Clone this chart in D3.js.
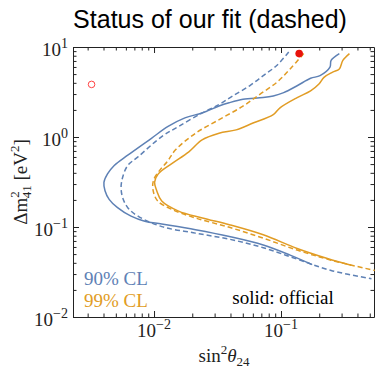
<!DOCTYPE html>
<html><head><meta charset="utf-8">
<script src="https://cdn.jsdelivr.net/npm/d3@7"></script>
<style>body{margin:0;background:#fff}svg{display:block}</style>
</head><body><svg id="c" width="375" height="369"></svg>
<script>
// ---- data (sin^2 theta24, Delta m^2_41 [eV^2]) ----
const blueSolidS = [0.288,0.248,0.243,0.203,0.171,0.134,0.105,0.0869,0.0722,0.0502,0.0390,0.0325,0.0239,0.0175,0.0129,0.00954,0.00621,0.00486,0.00430,0.00403,0.00411,0.00443,0.00516,0.00659,0.00845,0.0115,0.0212,0.0392,0.0725,0.118,0.176];
const blueSolidM = [8.45,7.10,5.97,4.81,4.49,3.71,3.11,2.86,2.74,2.62,2.40,2.21,1.85,1.63,1.31,0.968,0.628,0.483,0.389,0.314,0.253,0.203,0.164,0.132,0.116,0.108,0.0933,0.0784,0.0631,0.0487,0.0382];
const blueDashS = [0.115,0.0925,0.0725,0.0566,0.0417,0.0326,0.0239,0.0156,0.0115,0.00747,0.00621,0.00566,0.00550,0.00566,0.00621,0.00747,0.0115,0.0212,0.0392,0.0725,0.134,0.248,0.516];
const blueDashM = [8.80,6.23,4.81,3.71,2.86,2.30,1.85,1.31,1.01,0.601,0.483,0.357,0.275,0.212,0.164,0.132,0.101,0.0855,0.0732,0.0589,0.0439,0.0329,0.0266];
const orangeSolidS = [0.346,0.307,0.288,0.255,0.218,0.199,0.171,0.134,0.0982,0.0869,0.0602,0.0443,0.0325,0.0239,0.0188,0.0138,0.0108,0.0101,0.0105,0.0115,0.0156,0.0240,0.0392,0.0725,0.134,0.232,0.357];
const orangeSolidM = [8.45,7.10,5.71,5.25,4.60,3.87,3.25,2.74,2.11,1.77,1.43,1.20,1.10,0.927,0.683,0.505,0.389,0.314,0.253,0.194,0.150,0.126,0.106,0.0819,0.0578,0.0447,0.0375];
const orangeDashS = [0.151,0.118,0.0925,0.0681,0.0501,0.0326,0.0212,0.0147,0.0128,0.0110,0.00990,0.00984,0.0107,0.0138,0.0212,0.0392,0.0725,0.134,0.248,0.548];
const orangeDashM = [8.45,5.71,4.04,2.98,2.20,1.56,1.10,0.715,0.540,0.420,0.330,0.253,0.194,0.157,0.126,0.0992,0.0751,0.0554,0.0428,0.0329];
const openPoint = [0.00322, 3.84];
const fitPoint = [0.139, 8.45];
const xMajor = [0.01, 0.1];
const yMajor = [0.01, 0.1, 1, 10];
const xTickLabels = ["10", "−2", "10", "−1"];
const yTickExps = ["−2", "−1", "0", "1"];
const legendLabels = ["90% CL", "99% CL"];

const blue = "#5e81b5", orange = "#e19c24";
const serif = "'Liberation Serif','Times New Roman',serif";
const svg = d3.select("#c");
const L = 73, R = 374, T = 47, B = 317;
const x = d3.scaleLog().domain([0.0023, 0.54]).range([L, R]);
const y = d3.scaleLog().domain([0.01, 10]).range([B, T]);

function minorTicks(dom) {
  const out = [];
  for (let e = -4; e <= 2; e++) for (let k = 1; k <= 9; k++) {
    const v = k * Math.pow(10, e);
    if (v >= dom[0] * 0.999 && v <= dom[1] * 1.001) out.push(v);
  }
  return out;
}
const xt = minorTicks(x.domain()), yt = minorTicks(y.domain());
const isMajor = v => Math.abs(Math.log10(v) - Math.round(Math.log10(v))) < 1e-6;

function drawAxis(axisGen, tr, vals, dirSign, horiz) {
  const g = svg.append("g").attr("transform", tr)
    .call(axisGen.tickValues(vals).tickFormat("").tickSizeOuter(0).tickSizeInner(-5));
  g.select(".domain").attr("stroke", "#222");
  g.selectAll(".tick line").attr("stroke", "#222")
    .attr(horiz ? "y2" : "x2", d => dirSign * (isMajor(d) ? 6 : 3.5));
  return g;
}
drawAxis(d3.axisBottom(x), `translate(0,${B})`, xt, -1, true);
drawAxis(d3.axisTop(x), `translate(0,${T})`, xt, 1, true);
drawAxis(d3.axisLeft(y), `translate(${L},0)`, yt, 1, false);
drawAxis(d3.axisRight(y), `translate(${R},0)`, yt, -1, false);

// tick labels
xMajor.forEach((v, i) => {
  const t = svg.append("text").attr("x", x(v)).attr("y", 337).attr("text-anchor", "middle")
    .attr("font-family", serif).attr("font-size", 19).attr("fill", "#222");
  t.append("tspan").text(xTickLabels[2 * i]);
  t.append("tspan").attr("font-size", 14).attr("dy", -8).text(xTickLabels[2 * i + 1]);
});
yMajor.forEach((v, i) => {
  const t = svg.append("text").attr("x", 68).attr("y", y(v) + 9).attr("text-anchor", "end")
    .attr("font-family", serif).attr("font-size", 19).attr("fill", "#222");
  t.append("tspan").text("10");
  t.append("tspan").attr("font-size", 14).attr("dy", -8).text(yTickExps[i]);
});

// curves
const line = d3.line().x(d => x(d[0])).y(d => y(d[1])).curve(d3.curveCatmullRom.alpha(0.5));
const g = svg.append("g");
function curve(S, M, col, dash) {
  g.append("path").attr("d", line(S.map((s, i) => [s, M[i]])))
    .attr("fill", "none").attr("stroke", col).attr("stroke-width", 1.5)
    .attr("stroke-dasharray", dash ? "5,3" : null);
}
curve(blueSolidS, blueSolidM, blue, false);
curve(blueDashS, blueDashM, blue, true);
curve(orangeSolidS, orangeSolidM, orange, false);
curve(orangeDashS, orangeDashM, orange, true);

svg.append("circle").attr("cx", x(openPoint[0])).attr("cy", y(openPoint[1])).attr("r", 3.3)
  .attr("fill", "none").attr("stroke", "#f44").attr("stroke-width", 1);
svg.append("circle").attr("cx", x(fitPoint[0])).attr("cy", y(fitPoint[1])).attr("r", 3.8)
  .attr("fill", "#e8120c");

// legend
svg.append("text").attr("x", 84).attr("y", 285).attr("font-family", serif).attr("font-size", 19)
  .attr("fill", blue).text(legendLabels[0]);
svg.append("text").attr("x", 84).attr("y", 307).attr("font-family", serif).attr("font-size", 19)
  .attr("fill", orange).text(legendLabels[1]);
svg.append("text").attr("x", 283).attr("y", 304).attr("text-anchor", "middle").attr("font-family", serif)
  .attr("font-size", 19).attr("fill", "#000").text("solid: official");

// title
svg.append("text").attr("x", 210).attr("y", 28).attr("text-anchor", "middle")
  .attr("font-family", "'Liberation Sans',Arial,sans-serif").attr("font-size", 25).attr("fill", "#000")
  .text("Status of our fit (dashed)");

// axis titles
const xl = svg.append("text").attr("x", 224).attr("y", 362).attr("text-anchor", "middle")
  .attr("font-family", serif).attr("font-size", 19).attr("fill", "#222");
xl.append("tspan").text("sin");
xl.append("tspan").attr("font-size", 13).attr("dy", -8).text("2");
xl.append("tspan").attr("dy", 8).attr("font-style", "italic").text("θ");
xl.append("tspan").attr("font-size", 13).attr("dy", 4).text("24");

const yl = svg.append("text").attr("transform", "translate(27,182) rotate(-90)").attr("text-anchor", "middle")
  .attr("font-family", serif).attr("font-size", 19).attr("fill", "#222");
yl.append("tspan").text("Δm");
yl.append("tspan").attr("font-size", 13).attr("dy", -8).text("2");
yl.append("tspan").attr("font-size", 13).attr("dx", -7).attr("dy", 12).text("41");
yl.append("tspan").attr("dy", -4).text(" [eV");
yl.append("tspan").attr("font-size", 13).attr("dy", -8).text("2");
yl.append("tspan").attr("dy", 8).text("]");
</script></body></html>
